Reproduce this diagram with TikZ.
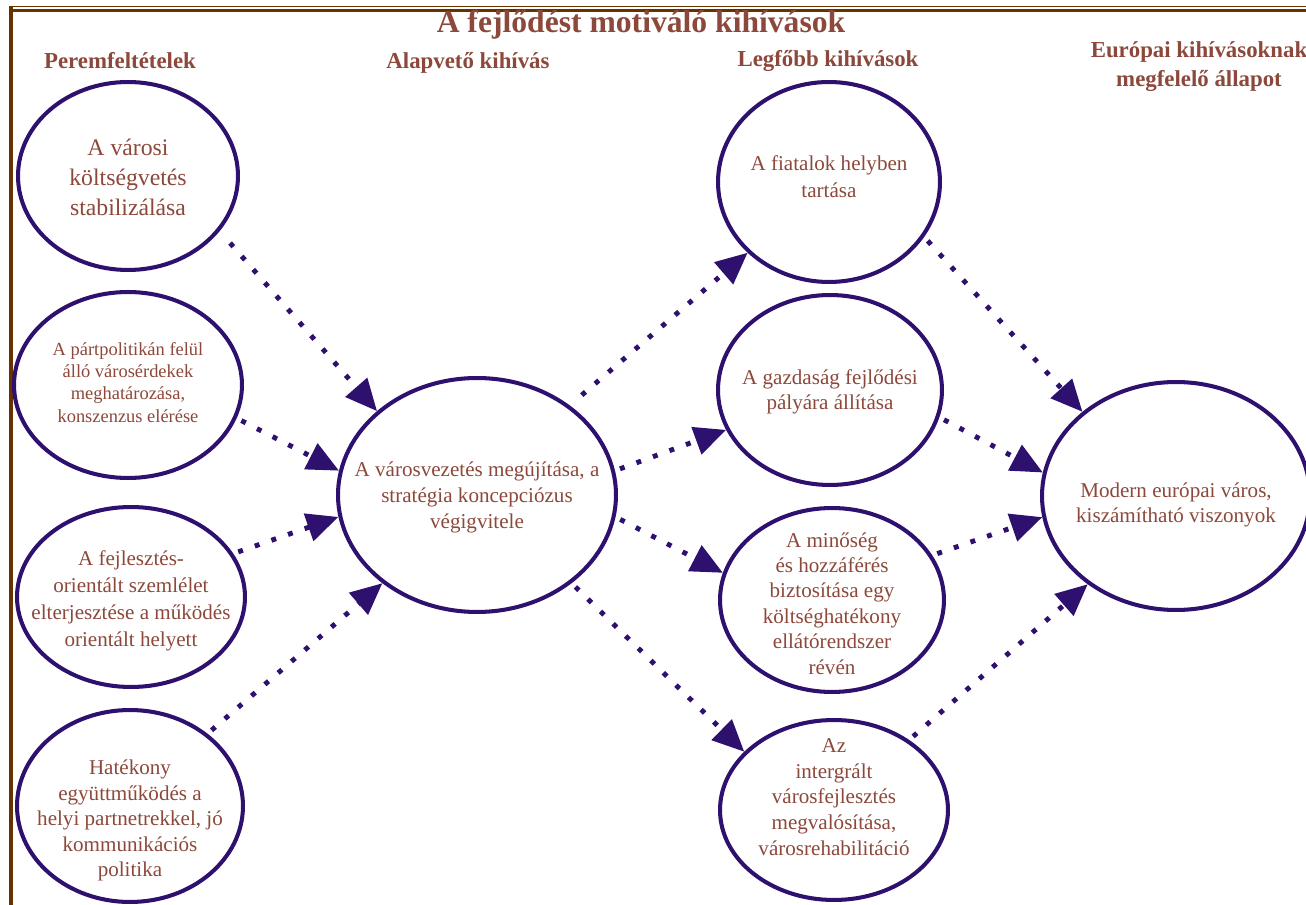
\documentclass[tikz,border=0pt]{standalone}
\usepackage{fontspec}
\setmainfont{Liberation Serif}
\usetikzlibrary{shapes.geometric,arrows.meta}
\definecolor{ellpurple}{RGB}{46,16,110}
\definecolor{txtbrown}{RGB}{140,72,58}
\definecolor{framebrown}{RGB}{102,51,0}
% szoveg az ellipszisben, a meretet nem noveli
\newcommand{\ellszoveg}[2][0pt]{\makebox[0pt]{\smash{\raisebox{#1}{\begin{tabular}{@{}c@{}}#2\end{tabular}}}}}

\begin{document}
\begin{tikzpicture}[x=0.02cm,y=-0.02cm,
  ell/.style={ellipse, draw=ellpurple, line width=2.3pt,
    text=txtbrown, inner sep=0pt,
    font=\fontsize{12}{14.7}\selectfont},
  head/.style={text=txtbrown, align=center,
    font=\fontsize{13}{16}\selectfont\bfseries},
  arr/.style={-{Triangle[length=18pt,width=16pt]}, ellpurple,
    line width=2.8pt, dash pattern=on 2.8pt off 7.2pt,
    shorten <=3pt}
]
\useasboundingbox (0,0) rectangle (1306,905);
% keret
\draw[framebrown, line width=0.8pt] (9.5,6.5) -- (1306,6.5);
\draw[framebrown, line width=1.8pt] (11,10.5) -- (1306,10.5);
\draw[framebrown, line width=2pt] (11,6) -- (11,905);
% fejlecek
\node[head, font=\fontsize{18}{20}\selectfont\bfseries] (title) at (641,25) {A fejlődést motiváló kihívások};
\node[head] (h1) at (120,61) {Peremfeltételek};
\node[head] (h2) at (468,63) {Alapvető kihívás};
\node[head] (h3) at (828,61) {Legfőbb kihívások};
\node[head, font=\fontsize{13}{16.5}\selectfont\bfseries] (h4) at (1199,67) {Európai kihívásoknak\\megfelelő állapot};
% peremfeltetelek
\node[ell, minimum width=4.4cm, minimum height=3.76cm, font=\fontsize{13.5}{17}\selectfont] (e1) at (128,176) {\ellszoveg[-5.7pt]{A városi\\költségvetés\\stabilizálása}};
\node[ell, minimum width=4.56cm, minimum height=3.72cm, font=\fontsize{10.5}{12.7}\selectfont] (e2) at (128,385) {\ellszoveg[-2.3pt]{A pártpolitikán felül\\álló városérdekek\\meghatározása,\\konszenzus elérése}};
\node[ell, minimum width=4.56cm, minimum height=3.6cm, font=\fontsize{12}{15.3}\selectfont] (e3) at (131,597) {\ellszoveg[-5.1pt]{A fejlesztés-\\orientált szemlélet\\elterjesztése a működés\\orientált helyett}};
\node[ell, minimum width=4.52cm, minimum height=3.84cm, font=\fontsize{12}{14.5}\selectfont] (e4) at (130,806) {\ellszoveg[-11.4pt]{Hatékony\\együttműködés a\\helyi partnetrekkel, jó\\kommunikációs\\politika}};
% alapveto kihivas
\node[ell, minimum width=5.56cm, minimum height=4.68cm] (mid) at (477,495) {\ellszoveg[-4.5pt]{A városvezetés megújítása, a\\stratégia koncepciózus\\végigvitele}};
% legfobb kihivasok
\node[ell, minimum width=4.44cm, minimum height=4cm, font=\fontsize{12}{15.3}\selectfont] (fia) at (829,182) {\ellszoveg[-1.1pt]{A fiatalok helyben\\tartása}};
\node[ell, minimum width=4.48cm, minimum height=3.8cm] (gaz) at (830,390) {\ellszoveg[-4pt]{A gazdaság fejlődési\\pályára állítása}};
\node[ell, minimum width=4.48cm, minimum height=3.68cm, font=\fontsize{12}{14.5}\selectfont] (min) at (832,600) {\ellszoveg[-6.2pt]{A minőség\\és hozzáférés\\biztosítása egy\\költséghatékony\\ellátórendszer\\révén}};
\node[ell, minimum width=4.56cm, minimum height=3.6cm, font=\fontsize{12}{14.7}\selectfont] (int) at (834,810) {\ellszoveg[3.4pt]{Az\\intergrált\\városfejlesztés\\megvalósítása,\\városrehabilitáció}};
% europai allapot
\node[ell, minimum width=5.36cm, minimum height=4.56cm] (mod) at (1176,496) {\ellszoveg[-8pt]{Modern európai város,\\kiszámítható viszonyok}};
% nyilak
\draw[arr, shorten <=9pt] (e1.-31.6) -- (mid.140.2);
\draw[arr] (e2.-17.4) -- (mid.170.8);
\draw[arr] (e3.23.3) -- (mid.189.2);
\draw[arr] (e4.43.1) -- (mid.223.6);
\draw[arr, shorten <=9pt] (mid.44.2) -- (fia.221);
\foreach \s/\sa/\t/\ta in {mid/10.5/gaz/201, mid/-9.4/min/166, mid/-43.4/int/147.8,
    fia/-30.7/mod/138, gaz/-14.9/mod/170, min/24.2/mod/189.2, int/43.6/mod/225.3}
  \draw[arr] (\s.\sa) -- (\t.\ta);
\end{tikzpicture}
\end{document}
